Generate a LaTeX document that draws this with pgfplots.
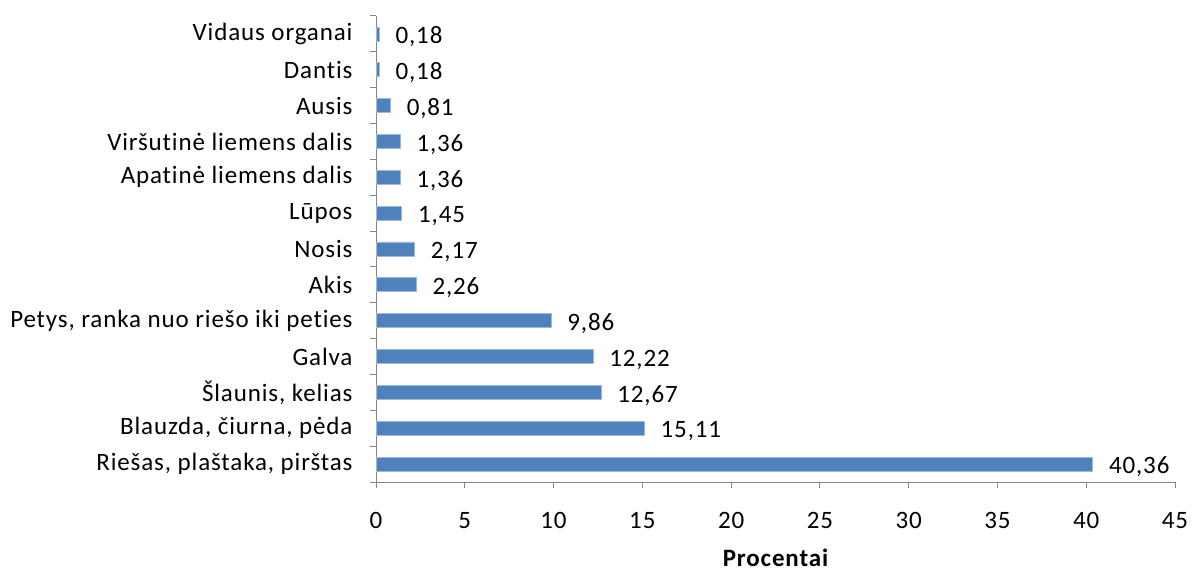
\documentclass[border=0pt]{standalone}
\usepackage{fontspec}
\setmainfont[LetterSpace=3.5, Ligatures={NoCommon}]{Carlito}
\usepackage{pgfplots}
\pgfplotsset{compat=1.18}
\usepackage{pgfplotstable}
\definecolor{barblue}{HTML}{4F81BD}
\definecolor{axgray}{HTML}{868686}
\pgfplotstableread{
y v lab
0 40.36 40,36
1 15.11 15,11
2 12.67 12,67
3 12.22 12,22
4 9.86 9,86
5 2.26 2,26
6 2.17 2,17
7 1.45 1,45
8 1.36 1,36
9 1.36 1,36
10 0.81 0,81
11 0.18 0,18
12 0.18 0,18
}\datatable
\newcommand\lblfont{\fontsize{25bp}{29bp}\selectfont}
\begin{document}
\begin{tikzpicture}
\path (0,0) rectangle (1195bp,571bp);
\begin{axis}[
  at={(376bp,89bp)}, anchor=south west,
  scale only axis, width=799bp, height=466bp,
  xbar, bar width=14bp,
  xmin=0, xmax=45, ymin=-0.5, ymax=12.5,
  axis x line*=bottom, axis y line*=left,
  axis line style={draw=axgray, line width=1bp},
  every tick/.style={draw=axgray, line width=1bp},
  tick align=outside, major tick length=6bp,
  /pgf/number format/assume math mode=true,
  xtick={0,5,...,45},
  ytick={-0.5,0.5,...,12.5},
  yticklabel={\mbox{}},
  extra y ticks={0,1,...,12},
  extra y tick labels={{Riešas, plaštaka, pirštas},{Blauzda, čiurna, pėda},{Šlaunis, kelias},Galva,{Petys, ranka nuo riešo iki peties},Akis,Nosis,Lūpos,Apatinė liemens dalis,Viršutinė liemens dalis,Ausis,Dantis,Vidaus organai},
  extra y tick style={major tick length=0pt, yticklabel style={xshift=-20bp}},
  tick label style={font=\lblfont, text=black},
  xticklabel style={inner sep=0pt, anchor=north, yshift=-24bp},
  xlabel={Procentai},
  xlabel style={at={(axis description cs:0.5,0)}, anchor=base, inner sep=0pt, yshift=-84bp, font=\lblfont\bfseries},
  point meta=explicit symbolic,
  nodes near coords,
  nodes near coords style={anchor=west, xshift=14bp, yshift=-3bp, inner sep=2bp, font=\lblfont, text=black},
]
\addplot[fill=barblue, draw=barblue!55!white, line width=0.8bp] table[x=v, y=y, meta=lab] {\datatable};
\end{axis}
\end{tikzpicture}
\end{document}
